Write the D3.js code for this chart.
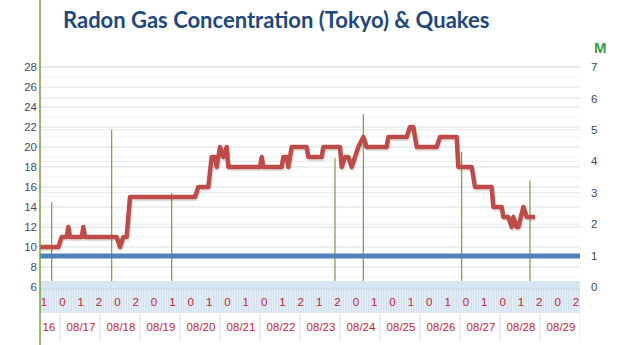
<!DOCTYPE html>
<html>
<head>
<meta charset="utf-8">
<script src="https://cdn.jsdelivr.net/npm/d3@7"></script>
<style>
  body { margin: 0; background: #fff; }
  svg { display: block; }
</style>
</head>
<body>
<svg id="chart" width="624" height="345"></svg>
<script>
// radon (left axis), hours since 08/16 00:00
const radonHours = [12,23,25,28,29,30,37,38,39,58,60,62,64,66,105,107,113,115,117,118,
  120,122,124,125,144,145,146,157,158,160,161,163,172,173,181,182,192,193,195,197,
  199,201,203,206,208,220,221,232,234,236,238,250,252,262,263,271,273,283,284,289,
  290,293,295,296,298,299,302,304,309]
const radonValues = [10,10,11,11,12,11,11,12,11,11,10,11,11,15,15,16,16,19,19,18,
  20,19,20,18,18,19,18,18,19,19,18,20,20,19,19,20,20,18,19,19,
  18,19,20,21,20,20,21,21,22,22,20,20,21,21,18,18,16,16,14,14,
  13,13,12,13,12,12,14,13,13]
// quakes (right axis, magnitude)
const quakeHours = [19,55,91,189,206,265,306]
const quakeMags = [2.7,5.0,3.0,4.1,5.5,4.3,3.4]
// blue reference level (left axis)
const baseLevel = 9.1

const dayLabels = ["08/16","08/17","08/18","08/19","08/20","08/21","08/22","08/23","08/24","08/25","08/26","08/27","08/28","08/29"]
const hourLabels = ["1","0","1","2","0","2","0","1","0","1","0","1","0","1","2","1","2","0","1","0","1","0","1","0","1","0","1","2","0","2"]
const leftTicks = [6,8,10,12,14,16,18,20,22,24,26,28]
const rightTicks = [0,1,2,3,4,5,6,7]

var svg = d3.select("#chart")
var plotL = 40, plotR = 580

var x = d3.scaleLinear().domain([0, 336]).range([20, 580])
var yL = d3.scaleLinear().domain([6, 28]).range([287, 67])
var yR = d3.scaleLinear().domain([0, 7]).range([287, 67])

svg.append("rect").attr("width", 624).attr("height", 345).attr("fill", "#fff")

var defs = svg.append("defs")
defs.append("clipPath").attr("id", "clip")
  .append("rect").attr("x", plotL).attr("y", 0).attr("width", plotR - plotL).attr("height", 345)
defs.append("clipPath").attr("id", "clipText")
  .append("rect").attr("x", plotL + 2.5).attr("y", 0).attr("width", plotR - plotL).attr("height", 345)

// gridlines
var grid = svg.append("g")
grid.selectAll("line.minor")
  .data(d3.range(7, 28, 2))
  .join("line").attr("class", "minor")
  .attr("x1", plotL).attr("x2", plotR)
  .attr("y1", d => yL(d)).attr("y2", d => yL(d))
  .attr("stroke", "#edf1f5").attr("stroke-width", 1)
grid.selectAll("line.right")
  .data(rightTicks.slice(1))
  .join("line").attr("class", "right")
  .attr("x1", plotL).attr("x2", plotR)
  .attr("y1", d => yR(d)).attr("y2", d => yR(d))
  .attr("stroke", "#e4eaf0").attr("stroke-width", 1)
grid.selectAll("line.major")
  .data(leftTicks.slice(1))
  .join("line").attr("class", "major")
  .attr("x1", plotL).attr("x2", plotR)
  .attr("y1", d => yL(d)).attr("y2", d => yL(d))
  .attr("stroke", "#d6dfe8").attr("stroke-width", 1)

var plot = svg.append("g").attr("clip-path", "url(#clip)")

// quakes
plot.selectAll("line.quake")
  .data(quakeHours)
  .join("line").attr("class", "quake")
  .attr("x1", d => x(d)).attr("x2", d => x(d))
  .attr("y1", 281)
  .attr("y2", (d, i) => yR(quakeMags[i]))
  .attr("stroke", "#7a9c3a").attr("stroke-width", 1.2)

// blue level
plot.append("line")
  .attr("x1", plotL).attr("x2", plotR)
  .attr("y1", yL(baseLevel)).attr("y2", yL(baseLevel))
  .attr("stroke", "#4f81bd").attr("stroke-width", 5)

// radon line
var radon = radonHours.map((h, i) => [h, radonValues[i]])
var line = d3.line().x(d => x(d[0])).y(d => yL(d[1]))
plot.append("path").datum(radon)
  .attr("fill", "none").attr("stroke", "rgba(0,0,0,0.12)").attr("stroke-width", 4.5)
  .attr("stroke-linejoin", "round")
  .attr("transform", "translate(1,2)")
  .attr("d", line)
plot.append("path").datum(radon)
  .attr("fill", "none").attr("stroke", "#be4b48").attr("stroke-width", 4.5)
  .attr("stroke-linejoin", "round")
  .attr("d", line)

// category band
plot.append("rect").attr("x", plotL).attr("y", 281).attr("width", plotR - plotL).attr("height", 32).attr("fill", "#f5f8fc")
plot.append("rect").attr("x", plotL).attr("y", 281).attr("width", plotR - plotL).attr("height", 9).attr("fill", "#d8e5f2")
plot.selectAll("line.hr")
  .data(d3.range(0, 337))
  .join("line").attr("class", "hr")
  .attr("x1", d => x(d)).attr("x2", d => x(d))
  .attr("y1", 288).attr("y2", 313)
  .attr("stroke", "#c6d9eb").attr("stroke-width", 0.9)

plot.selectAll("line.day")
  .data(d3.range(1, 15))
  .join("line").attr("class", "day")
  .attr("x1", d => x(d * 24)).attr("x2", d => x(d * 24))
  .attr("y1", 313).attr("y2", 341)
  .attr("stroke", "#dcdcdc").attr("stroke-width", 1)

var hx = d3.scalePoint().domain(d3.range(hourLabels.length)).range([44, 576])
plot.selectAll("text.hr")
  .data(hourLabels)
  .join("text").attr("class", "hr")
  .attr("x", (d, i) => hx(i)).attr("y", 306)
  .attr("text-anchor", "middle")
  .attr("font-family", "Liberation Sans, Arial, sans-serif").attr("font-size", 11.5)
  .attr("fill", "#c0282d")
  .text(d => d)

svg.append("g").attr("clip-path", "url(#clipText)")
  .selectAll("text.day")
  .data(dayLabels)
  .join("text").attr("class", "day")
  .attr("x", (d, i) => x(i * 24 + 12) + 1).attr("y", 331)
  .attr("text-anchor", "middle")
  .attr("font-family", "Liberation Sans, Arial, sans-serif").attr("font-size", 11.5)
  .attr("fill", "#c0282d")
  .text(d => d)

// axes
var leftAxis = svg.append("g").attr("transform", "translate(" + plotL + ",0)")
  .call(d3.axisLeft(yL).tickValues(leftTicks).tickSize(0).tickPadding(3))
leftAxis.select(".domain").remove()
leftAxis.selectAll("text").attr("font-family", "Liberation Sans, Arial, sans-serif")
  .attr("font-size", 11.5).attr("fill", "#3f4a5a")

var rightAxis = svg.append("g").attr("transform", "translate(" + (plotL + 548) + ",0)")
  .call(d3.axisRight(yR).tickValues(rightTicks).tickFormat(d3.format("d")).tickSize(0).tickPadding(3))
rightAxis.select(".domain").remove()
rightAxis.selectAll("text").attr("font-family", "Liberation Sans, Arial, sans-serif")
  .attr("font-size", 11.5).attr("fill", "#3f4a5a")

svg.append("line")
  .attr("x1", plotL).attr("x2", plotL).attr("y1", 0).attr("y2", 345)
  .attr("stroke", "#77a03a").attr("stroke-width", 1.5)

svg.append("text").attr("x", 63).attr("y", 28)
  .attr("font-family", "Lato, sans-serif").attr("font-weight", "bold").attr("font-size", 22)
  .attr("fill", "#1f497d")
  .text("Radon Gas Concentration (Tokyo) & Quakes")

svg.append("text").attr("x", 594).attr("y", 53)
  .attr("font-family", "Liberation Sans, Arial, sans-serif").attr("font-weight", "bold").attr("font-size", 15)
  .attr("fill", "#3a9a4a")
  .text("M")
</script>
</body>
</html>
